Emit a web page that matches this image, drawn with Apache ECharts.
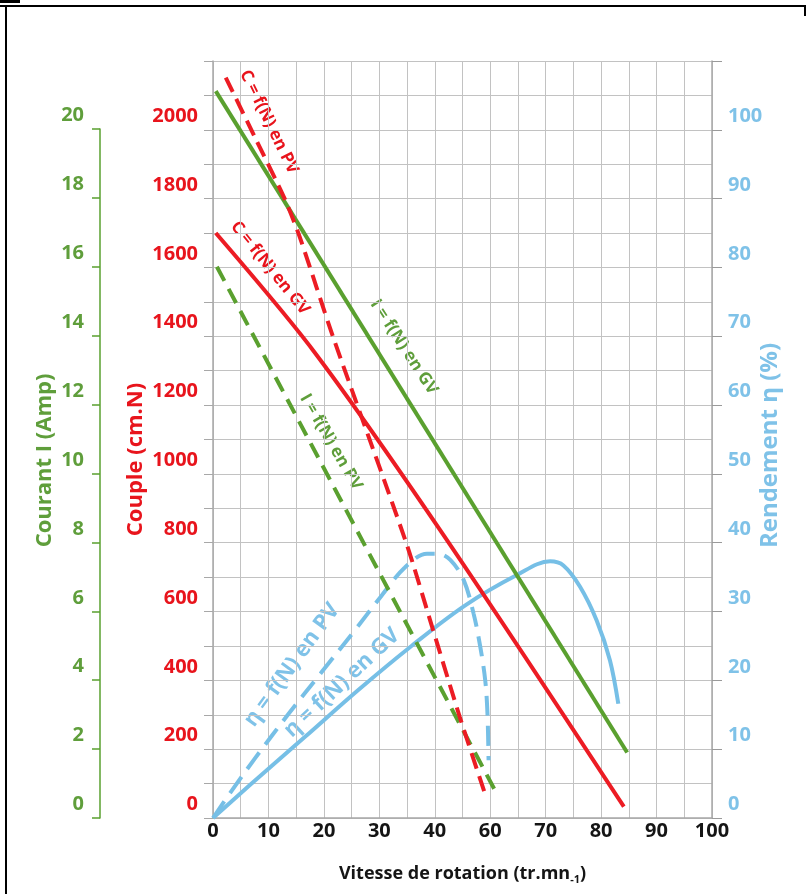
<!DOCTYPE html>
<html>
<head>
<meta charset="utf-8">
<script src="https://cdn.jsdelivr.net/npm/echarts@6/dist/echarts.min.js"></script>
<style>
html,body{margin:0;padding:0;background:#fff;}
#chart{width:806px;height:894px;}
</style>
</head>
<body>
<div id="chart"></div>
<script>
// ---- data (speed axis in plot units 0..90; tick labels as printed on the original) ----
const xTickLabels = ['0', '10', '20', '30', '40', '60', '70', '80', '90', '100'];

// Courant I (A)
const currentGV = [[0.5, 21.1], [74.7, 1.9]];
const currentPV = [[0.7, 16.0], [51.2, 0.7]];

// Couple C (cm.N)
const torqueGV = [[0.5, 1700], [18.1, 1358], [41.0, 836], [74.1, 33]];
const torquePV = [[2.3, 2152], [7.6, 1977], [13.0, 1797], [15.7, 1686], [21.7, 1396], [34.9, 797], [39.7, 546], [44.5, 294], [48.9, 78]];

// Rendement (%)
const effGV = [[0, 0], [6.4, 4.6], [16.6, 11.8], [26.2, 18.6], [35.8, 25.0], [45.5, 30.9], [54.8, 35.3], [60.8, 37.3], [63.2, 36.7], [66.2, 33.6], [69.2, 28.7], [71.6, 22.9], [73.1, 16.6]];
const effPV = [[0, 0], [2.8, 3.3], [7.6, 8.7], [13.6, 15.1], [19.6, 21.2], [25.6, 27.3], [30.4, 32.3], [34.6, 36.4], [38.6, 38.4], [40.6, 38.4], [42.8, 37.5], [45.2, 34.6], [47.0, 29.7], [48.2, 24.9], [49.1, 20.0], [49.5, 15.2], [49.7, 8.4]];

const GREEN = '#5aa02f', RED = '#ec1c24', BLUE = '#76bfe6';
const GREEN_T = '#5f9e3b', RED_T = '#e8141c', BLUE_T = '#7fc2e8';
const GRID = '#c2c2c2';
const FONT = '"Open Sans", "Liberation Sans", sans-serif';

const chart = echarts.init(document.getElementById('chart'), null, {renderer: 'canvas'});

const lineLabel = (text, x, y, deg, color, size) => ({
  type: 'text', x: x, y: y, rotation: deg * Math.PI / 180,
  style: {text: text, fill: color, font: 'bold ' + size + 'px ' + FONT, align: 'center', verticalAlign: 'middle'}
});

const tickLabel = (color, margin) => ({
  color: color, fontSize: 20, fontWeight: 'bold', fontFamily: FONT, margin: margin,
  verticalAlign: 'bottom', lineHeight: 27
});

const option = {
  animation: false,
  backgroundColor: '#fff',
  grid: [
    {left: 213, right: 94, top: 61, bottom: 76},
    {left: 213, right: 94, top: 129, bottom: 76}
  ],
  xAxis: [
    {
      gridIndex: 0, type: 'value', min: 0, max: 90, interval: 10,
      axisLine: {onZero: false, lineStyle: {color: '#a8a8a8', width: 1.5}},
      axisTick: {show: false},
      minorTick: {show: false, splitNumber: 2},
      splitLine: {show: true, lineStyle: {color: GRID, width: 1}},
      minorSplitLine: {show: true, lineStyle: {color: GRID, width: 1}},
      axisLabel: {
        formatter: v => xTickLabels[Math.round(v / 10)],
        color: '#151515', fontSize: 20, fontWeight: 'bold', fontFamily: FONT, margin: 3
      },
      name: 'Vitesse de rotation (tr.mn{sub|-1})',
      nameLocation: 'middle', nameGap: 44, nameMoveOverlap: false,
      nameTextStyle: {
        color: '#151515', fontSize: 18, fontWeight: 'bold', fontFamily: FONT,
        rich: {sub: {fontSize: 11, fontWeight: 'bold', color: '#151515', fontFamily: FONT, padding: [12, 0, 0, 0]}}
      }
    },
    {gridIndex: 1, type: 'value', min: 0, max: 90, show: false}
  ],
  yAxis: [
    {
      gridIndex: 0, type: 'value', position: 'left', min: 0, max: 2200, interval: 100,
      axisLine: {show: true, onZero: false, lineStyle: {color: '#a8a8a8', width: 1.5}},
      axisTick: {show: true, length: 9, lineStyle: {color: '#a8a8a8'}},
      splitLine: {show: true, lineStyle: {color: GRID, width: 1}},
      axisLabel: Object.assign(tickLabel(RED_T, 15), {
        formatter: v => (v % 200 === 0 && v <= 2000) ? String(v) : ''
      }),
      name: 'Couple (cm.N)', nameLocation: 'middle', nameRotate: 90, nameGap: 66, nameMoveOverlap: false,
      nameTextStyle: {color: RED_T, fontSize: 22, fontWeight: 'bold', fontFamily: FONT, padding: [0, 40, 0, 0]}
    },
    {
      gridIndex: 1, type: 'value', position: 'left', offset: 113, min: 0, max: 20, interval: 2,
      axisLine: {show: true, onZero: false, lineStyle: {color: GREEN, width: 1.5}},
      axisTick: {show: true, length: 8, lineStyle: {color: GREEN, width: 1.5}},
      splitLine: {show: false},
      axisLabel: tickLabel(GREEN_T, 16),
      name: 'Courant I (Amp)', nameLocation: 'middle', nameRotate: 90, nameGap: 44, nameMoveOverlap: false,
      nameTextStyle: {color: GREEN_T, fontSize: 22, fontWeight: 'bold', fontFamily: FONT, padding: [0, 0, 0, 26]}
    },
    {
      gridIndex: 0, type: 'value', position: 'right', min: 0, max: 110, interval: 10,
      axisLine: {show: true, onZero: false, lineStyle: {color: '#a8a8a8', width: 1.5}},
      axisTick: {show: true, length: 10, lineStyle: {color: '#9a9a9a'}},
      splitLine: {show: false},
      axisLabel: Object.assign(tickLabel(BLUE_T, 16), {
        formatter: v => v <= 100 ? String(v) : ''
      }),
      name: 'Rendement η (%)', nameLocation: 'middle', nameRotate: 90, nameGap: 46, nameMoveOverlap: false,
      nameTextStyle: {color: BLUE_T, fontSize: 24, fontWeight: 'bold', fontFamily: FONT, padding: [0, 12, 0, 0]}
    }
  ],
  series: [
    {name: 'η GV', type: 'line', xAxisIndex: 0, yAxisIndex: 2, data: effGV, smooth: 0.35, showSymbol: false, symbol: 'none',
      lineStyle: {color: BLUE, width: 4}},
    {name: 'η PV', type: 'line', xAxisIndex: 0, yAxisIndex: 2, data: effPV, smooth: 0.35, showSymbol: false, symbol: 'none',
      lineStyle: {color: BLUE, width: 4, type: [20, 10]}},
    {name: 'I GV', type: 'line', xAxisIndex: 1, yAxisIndex: 1, data: currentGV, clip: false, showSymbol: false, symbol: 'none',
      lineStyle: {color: GREEN, width: 4}},
    {name: 'I PV', type: 'line', xAxisIndex: 1, yAxisIndex: 1, data: currentPV, clip: false, showSymbol: false, symbol: 'none',
      lineStyle: {color: GREEN, width: 4, type: [16, 9]}},
    {name: 'C GV', type: 'line', xAxisIndex: 0, yAxisIndex: 0, data: torqueGV, smooth: 0.3, showSymbol: false, symbol: 'none',
      lineStyle: {color: RED, width: 4}},
    {name: 'C PV', type: 'line', xAxisIndex: 0, yAxisIndex: 0, data: torquePV, smooth: 0.25, showSymbol: false, symbol: 'none',
      lineStyle: {color: RED, width: 4, type: [16, 8]}}
  ],
  graphic: [
    {type: 'line', shape: {x1: 0, y1: 6, x2: 806, y2: 6}, style: {stroke: '#000', lineWidth: 2}},
    {type: 'line', shape: {x1: 6, y1: 6, x2: 6, y2: 894}, style: {stroke: '#000', lineWidth: 2}},
    {type: 'line', shape: {x1: 0, y1: 1.5, x2: 20, y2: 1.5}, style: {stroke: '#000', lineWidth: 3}},
    {type: 'line', shape: {x1: 805, y1: 6, x2: 805, y2: 16}, style: {stroke: '#000', lineWidth: 2}},
    lineLabel('C = f(N) en PV', 269, 122, -64, RED_T, 17),
    lineLabel('C = f(N) en GV', 270, 268, -51, RED_T, 17),
    lineLabel('I = f(N) en GV', 404, 347, -57, GREEN_T, 17),
    lineLabel('I = f(N) en PV', 331, 442, -60, GREEN_T, 17),
    lineLabel('η = f(N) en PV', 292, 665, 54, BLUE_T, 22),
    lineLabel('η = f(N) en GV', 342, 683, 43, BLUE_T, 22)
  ]
};
chart.setOption(option);
</script>
</body>
</html>
